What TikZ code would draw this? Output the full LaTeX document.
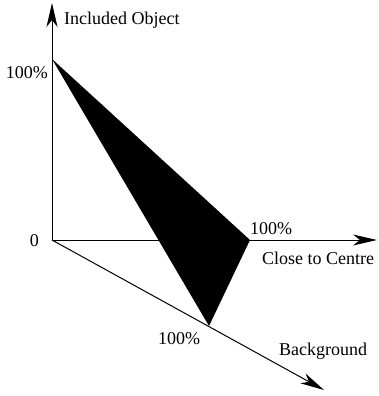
\documentclass[tikz,border=0pt]{standalone}
\usepackage{fontspec}
\setmainfont{Liberation Serif}
\usetikzlibrary{arrows.meta}
\begin{document}
\begin{tikzpicture}[x=1pt,y=-1pt,
  axis/.style={line width=1pt,-{Stealth[length=24pt,width=11pt,inset=7pt]}},
  lbl/.style={inner sep=0pt,font=\fontsize{18}{20}\selectfont}]
\useasboundingbox (0,0) rectangle (378,396);
\coordinate (O) at (52,240);
\coordinate (Ytip) at (52,3);
\coordinate (Xtip) at (377,240);
\coordinate (Ztip) at (324,390);
\coordinate (Y1) at (52,59);
\coordinate (X1) at (250,240);
\coordinate (Z1) at (209,326);
\fill[black] (Y1) -- (X1) -- (Z1) -- cycle;
\draw[axis] (O) -- (Ytip);
\draw[axis] (O) -- (Xtip);
\draw[axis] (O) -- (Ztip);
\node[lbl,anchor=west] (ly) at (64,20) {Included Object};
\node[lbl,anchor=east] (ly1) at (48,73) {100\%};
\node[lbl,anchor=east] (l0) at (39,241) {0};
\node[lbl,anchor=west] (lx1) at (250,229) {100\%};
\node[lbl,anchor=west] (lx) at (262,258) {Close to Centre};
\node[lbl,anchor=west] (lz1) at (158,339) {100\%};
\node[lbl,anchor=west] (lz) at (279,351) {Background};
\end{tikzpicture}
\end{document}
